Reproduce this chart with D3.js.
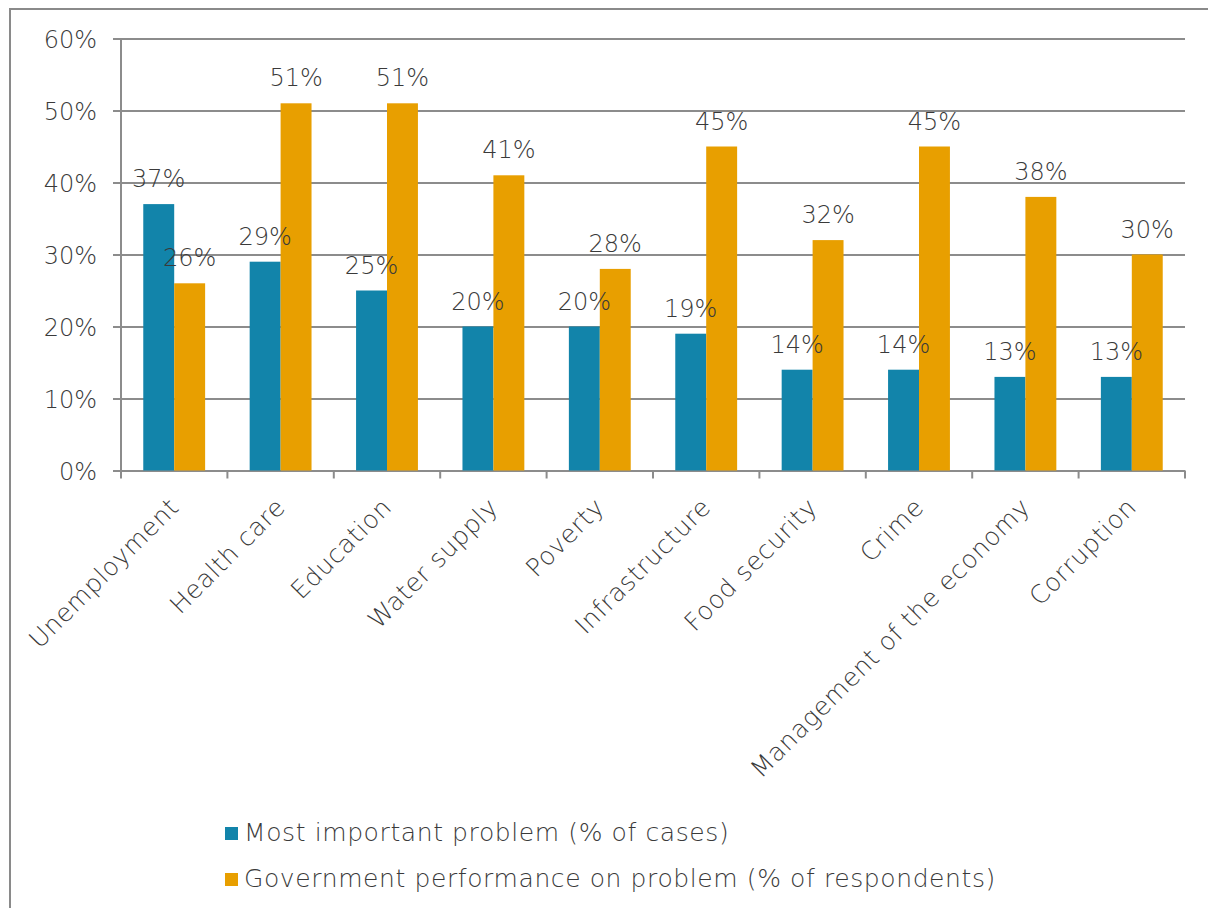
<!DOCTYPE html>
<html>
<head>
<meta charset="utf-8">
<script src="https://cdn.jsdelivr.net/npm/d3@7"></script>
<style>
  html, body { margin: 0; padding: 0; background: #fff; }
  svg { display: block; font-family: "DejaVu Sans", Lato, sans-serif; font-weight: 200; }
</style>
</head>
<body>
<svg id="chart" width="1208" height="908"></svg>
<script>
const categories = ["Unemployment", "Health care", "Education", "Water supply", "Poverty",
  "Infrastructure", "Food security", "Crime", "Management of the economy", "Corruption"];
const mostImportant = [37, 29, 25, 20, 20, 19, 14, 14, 13, 13];
const govPerformance = [26, 51, 51, 41, 28, 45, 32, 45, 38, 30];
const seriesNames = ["Most important problem (% of cases)",
  "Government performance on problem (% of respondents)"];
const yTicks = [0, 10, 20, 30, 40, 50, 60];

const colors = ["#1284aa", "#e89f00"];
const textColor = "#3a3a3a";
const gridColor = "#8c8c8c";
const numberSize = "24px";
const wordSize = "25px";
const wordSpacing = "0.6px";

const svg = d3.select("#chart");
const W = 1208, H = 908;
const plot = { left: 121, right: 1185, top: 38.5, bottom: 470.5 };

// outer frame
svg.append("path")
  .attr("d", `M10,${H + 5} L10,9 L${W + 5},9`)
  .attr("fill", "none").attr("stroke", "#8a8a8a").attr("stroke-width", 2);

const x = d3.scaleBand().domain(categories).range([plot.left, plot.right]);
const y = d3.scaleLinear().domain([0, 60]).range([plot.bottom, plot.top]);
const inner = d3.scaleBand().domain([0, 1]).range([0, x.bandwidth()]).paddingOuter(0.72);

// horizontal gridlines with left tick stubs
const yAxis = d3.axisLeft(y).tickValues(yTicks).tickFormat(d => d + "%").tickSize(0);
const gy = svg.append("g").attr("transform", `translate(${plot.left - 8},0)`).call(yAxis)
  .attr("font-family", null).attr("font-size", null);
gy.select(".domain").remove();
gy.selectAll(".tick line")
  .attr("x1", 0).attr("x2", plot.right - plot.left + 8)
  .attr("stroke", gridColor).attr("stroke-width", 2);
gy.selectAll(".tick text").attr("x", -16).attr("dy", "0.36em")
  .attr("fill", textColor).style("font-size", numberSize);

// vertical axis line
svg.append("line")
  .attr("x1", plot.left).attr("x2", plot.left)
  .attr("y1", plot.top).attr("y2", plot.bottom + 8)
  .attr("stroke", gridColor).attr("stroke-width", 2);

// category boundary ticks below the baseline
const boundaries = categories.map(c => x(c) + x.bandwidth());
svg.append("g").selectAll("line").data(boundaries).join("line")
  .attr("x1", d => d).attr("x2", d => d).attr("y1", plot.bottom).attr("y2", plot.bottom + 8)
  .attr("stroke", gridColor).attr("stroke-width", 2);

// bars
const data = categories.map((c, i) => ({ c, vals: [mostImportant[i], govPerformance[i]] }));
const groups = svg.append("g").selectAll("g").data(data).join("g")
  .attr("transform", d => `translate(${x(d.c)},0)`);
groups.selectAll("rect").data(d => d.vals.map((v, k) => ({ v, k }))).join("rect")
  .attr("x", d => inner(d.k)).attr("width", inner.bandwidth())
  .attr("y", d => y(d.v)).attr("height", d => y(0) - y(d.v))
  .attr("fill", d => colors[d.k]);

// value labels
groups.selectAll("text").data(d => d.vals.map((v, k) => ({ v, k }))).join("text")
  .attr("x", d => inner(d.k) + inner.bandwidth() / 2)
  .attr("y", d => y(d.v) - 17)
  .attr("text-anchor", "middle")
  .attr("fill", textColor).style("font-size", numberSize)
  .text(d => d.v + "%");

// rotated category labels
svg.append("g").selectAll("text").data(categories).join("text")
  .attr("transform", c => `translate(${x(c) + x.bandwidth() / 2},${plot.bottom + 32}) rotate(-45)`)
  .attr("text-anchor", "end")
  .attr("dy", "0.35em")
  .attr("fill", textColor).style("font-size", wordSize).style("letter-spacing", wordSpacing)
  .text(c => c);

// legend
const legend = svg.append("g").selectAll("g").data(seriesNames).join("g")
  .attr("transform", (d, i) => `translate(225,${827 + i * 46})`);
legend.append("rect").attr("width", 13).attr("height", 13).attr("fill", (d, i) => colors[i]);
legend.append("text").attr("x", 19).attr("y", 13.5)
  .attr("fill", textColor).style("font-size", wordSize).style("letter-spacing", wordSpacing)
  .text(d => d);
</script>
</body>
</html>
